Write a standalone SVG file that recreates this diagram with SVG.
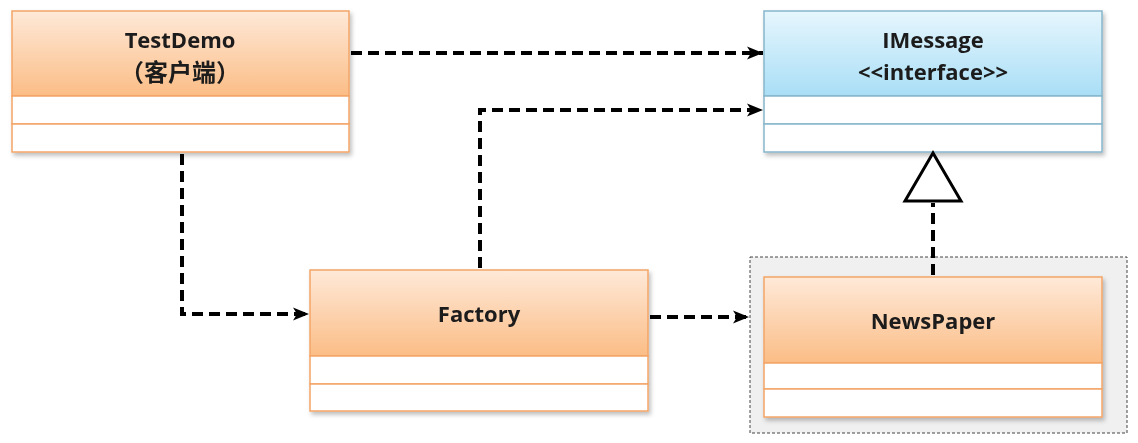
<svg xmlns="http://www.w3.org/2000/svg" width="1138" height="443" viewBox="0 0 1138 443">
<defs>
<linearGradient id="og" x1="0" y1="0" x2="0" y2="1">
<stop offset="0" stop-color="#fee9d8"/>
<stop offset="1" stop-color="#fbbd86"/>
</linearGradient>
<linearGradient id="bg" x1="0" y1="0" x2="0" y2="1">
<stop offset="0" stop-color="#e6f6fd"/>
<stop offset="1" stop-color="#a9def6"/>
</linearGradient>
<filter id="sh" x="-5%" y="-5%" width="110%" height="115%">
<feDropShadow dx="2" dy="3" stdDeviation="2" flood-color="#000" flood-opacity="0.25"/>
</filter>
<marker id="arr" markerWidth="18" markerHeight="16" refX="16" refY="8" orient="auto" markerUnits="userSpaceOnUse">
<path d="M0,1.5 L16,8 L0,14.5 L4,8 Z" fill="#000"/>
</marker>
</defs>
<style>
.o{stroke:#f4a567;stroke-width:1.5}
.b{stroke:#86b6cc;stroke-width:1.5}
.w{fill:#fff}
.t{font-family:"Open Sans","Liberation Sans",sans-serif;font-weight:bold;font-size:22px;fill:#1a1a1a;text-anchor:middle}
.cjk{font-family:"Noto Sans CJK SC",sans-serif;font-size:24px}
.c{stroke:#000;stroke-width:4;stroke-dasharray:11 6;fill:none}
</style>
<g id="newspaper-group">
<rect x="750" y="257" width="377" height="176" fill="#f0f0f0" stroke="#444" stroke-width="1" stroke-dasharray="3 2"/>
</g>
<g id="testdemo" filter="url(#sh)">
<rect x="12" y="11" width="337" height="85" fill="url(#og)" class="o"/>
<rect x="12" y="96" width="337" height="28" class="w o"/>
<rect x="12" y="124" width="337" height="28" class="w o"/>
<text class="t" x="180" y="48">TestDemo</text>
<text class="t cjk" x="180" y="81">（客户端）</text>
</g>
<g id="imessage" filter="url(#sh)">
<rect x="764" y="11" width="338" height="85" fill="url(#bg)" class="b"/>
<rect x="764" y="96" width="338" height="28" class="w b"/>
<rect x="764" y="124" width="338" height="28" class="w b"/>
<text class="t" x="933" y="48">IMessage</text>
<text class="t" x="933" y="80">&lt;&lt;interface&gt;&gt;</text>
</g>
<g id="factory" filter="url(#sh)">
<rect x="310" y="270" width="338" height="86" fill="url(#og)" class="o"/>
<rect x="310" y="356" width="338" height="28" class="w o"/>
<rect x="310" y="384" width="338" height="27" class="w o"/>
<text class="t" x="479" y="322">Factory</text>
</g>
<g id="newspaper" filter="url(#sh)">
<rect x="764" y="277" width="338" height="86" fill="url(#og)" class="o"/>
<rect x="764" y="363" width="338" height="26" class="w o"/>
<rect x="764" y="389" width="338" height="28" class="w o"/>
<text class="t" x="933" y="329">NewsPaper</text>
</g>
<g id="connectors">
<path class="c" d="M351,53 H763" marker-end="url(#arr)"/>
<path class="c" d="M480,268 V110 H763" marker-end="url(#arr)"/>
<path class="c" d="M182,154 V314 H309" marker-end="url(#arr)"/>
<path class="c" d="M650,317 H749" marker-end="url(#arr)"/>
<path class="c" d="M933,275 V203"/>
<polygon points="933,153 905,201 961,201" fill="#fff" stroke="#000" stroke-width="3" stroke-linejoin="miter"/>
</g>
</svg>
